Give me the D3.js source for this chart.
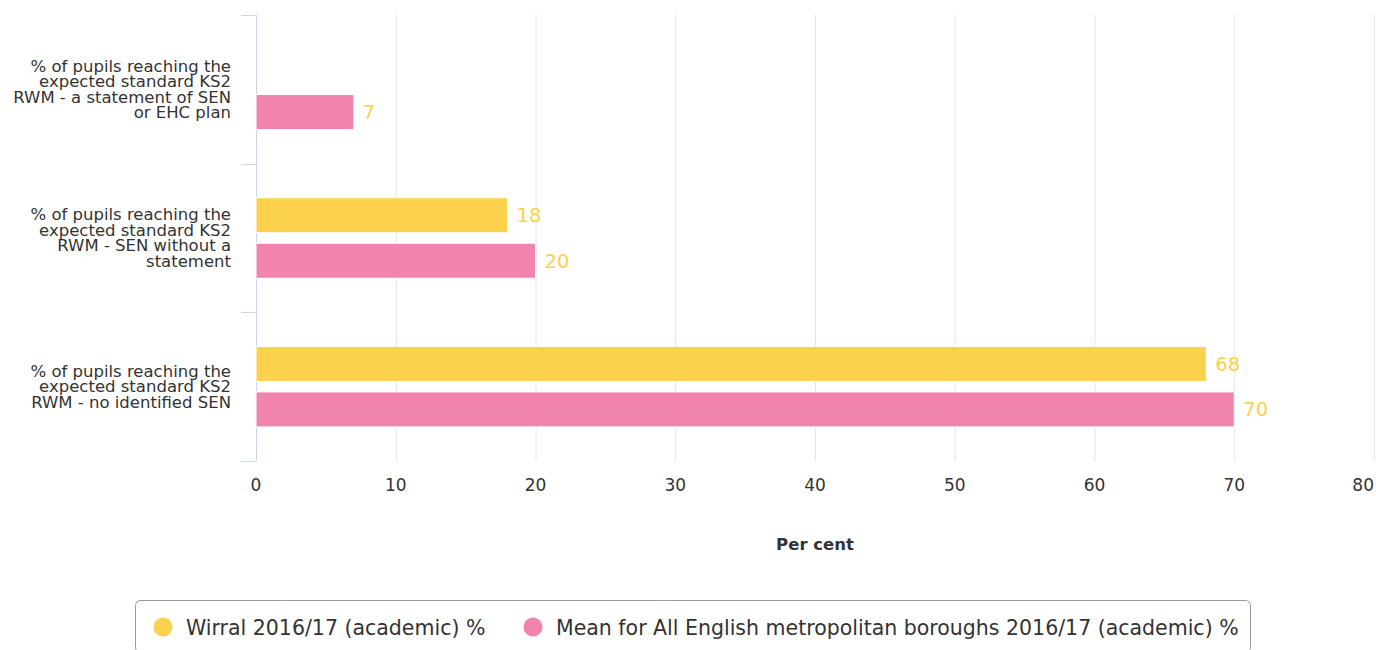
<!DOCTYPE html>
<html><head><meta charset="utf-8">
<script src="https://cdn.jsdelivr.net/npm/d3@7"></script>
<style>body{margin:0;background:#fff;font-family:"DejaVu Sans",sans-serif;}</style>
</head><body><svg id="c" width="1376" height="650"></svg>
<script>
const categories = [
  ["% of pupils reaching the","expected standard KS2","RWM - a statement of SEN","or EHC plan"],
  ["% of pupils reaching the","expected standard KS2","RWM - SEN without a","statement"],
  ["% of pupils reaching the","expected standard KS2","RWM - no identified SEN"]
];
const seriesNames = ["Wirral 2016/17 (academic) %","Mean for All English metropolitan boroughs 2016/17 (academic) %"];
const seriesColors = ["#fcd24c","#f084ae"];
const wirral = [null, 18, 68];
const meanMet = [7, 20, 70];
const xTicks = [0,10,20,30,40,50,60,70,80];
const xTitle = "Per cent";

const svg = d3.select("#c");
const L = 256, R = 1374, T = 15, B = 461;
const x = d3.scaleLinear().domain([0,80]).range([L,R]);
const y = d3.scaleBand().domain(d3.range(categories.length)).range([T,B]).padding(0);
const gp = 0.194*y.step();
const ys = d3.scaleBand().domain([0,1]).range([gp, y.step()-gp]).paddingInner(0.23).paddingOuter(0.115);

// grid
svg.append("g").selectAll("line").data(xTicks.slice(1)).join("line")
  .attr("x1",d=>Math.min(x(d)+0.5,R+0.5)).attr("x2",d=>Math.min(x(d)+0.5,R+0.5)).attr("y1",T).attr("y2",B)
  .attr("stroke","#e6e6e6").attr("stroke-width",1);

// y axis line and ticks
svg.append("line").attr("x1",L+0.5).attr("x2",L+0.5).attr("y1",T).attr("y2",B).attr("stroke","#ccd6eb");
const ticksY = d3.range(categories.length+1).map(i=>T+i*y.step());
svg.append("g").selectAll("line").data(ticksY).join("line")
  .attr("x1",241).attr("x2",L).attr("y1",d=>Math.round(d)+0.5).attr("y2",d=>Math.round(d)+0.5).attr("stroke","#ccd6eb");

// category labels
const lh = 15.5;
categories.forEach((lines,i)=>{
  const cy = y(i)+y.step()/2;
  const t = svg.append("text").attr("text-anchor","end").attr("fill","#333").attr("font-size",16.5);
  lines.forEach((ln,k)=>{
    t.append("tspan").attr("x",231).attr("y",cy - (lines.length-1)*lh/2 + k*lh + 5.5).text(ln);
  });
});

// bars
const data = [wirral, meanMet];
data.forEach((vals,s)=>{
  vals.forEach((v,i)=>{
    if(v==null) return;
    const by = y(i)+ys(s);
    svg.append("rect").attr("x",x(0)).attr("y",by).attr("width",x(v)-x(0)).attr("height",ys.bandwidth())
      .attr("fill",seriesColors[s]).attr("stroke","#fff").attr("stroke-width",1);
    svg.append("text").attr("x",x(v)+9).attr("y",by+ys.bandwidth()/2+7)
      .attr("fill","#fcd24c").attr("font-size",19.5).text(v);
  });
});

// x tick labels
svg.append("g").selectAll("text").data(xTicks).join("text")
  .attr("x",d=>x(d)).attr("y",491).attr("text-anchor","middle").attr("fill","#333").attr("font-size",17).text(d=>d)
  .each(function(){
    const bb=this.getBBox();
    if(bb.x+bb.width>1375) d3.select(this).attr("x", +d3.select(this).attr("x") - (bb.x+bb.width-1374));
  });

svg.append("text").attr("x",(L+R)/2).attr("y",550).attr("text-anchor","middle").attr("font-weight","bold")
  .attr("fill","#333").attr("font-size",16.5).text(xTitle);

// legend
svg.append("rect").attr("x",135.5).attr("y",600.5).attr("width",1115).attr("height",52).attr("rx",5)
  .attr("fill","#fff").attr("stroke","#999");
const lx = [163, 533];
seriesNames.forEach((n,s)=>{
  svg.append("circle").attr("cx",lx[s]).attr("cy",627).attr("r",9.5).attr("fill",seriesColors[s]);
  svg.append("text").attr("x",lx[s]+23).attr("y",635).attr("fill","#333").attr("font-size",20.5).text(n);
});
</script></body></html>
